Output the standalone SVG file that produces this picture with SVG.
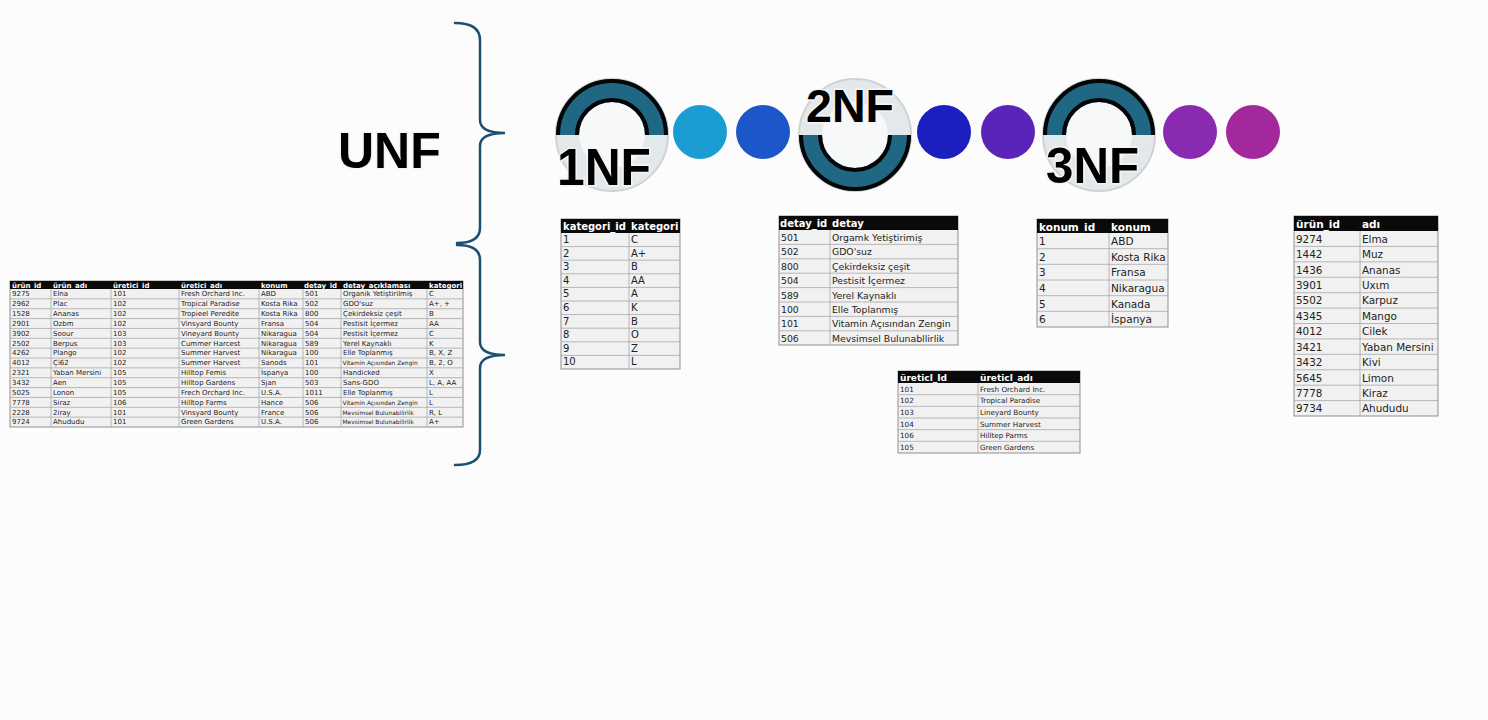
<svg xmlns="http://www.w3.org/2000/svg" width="1488" height="720" viewBox="0 0 1488 720">
<defs>
<linearGradient id="rowg" x1="0" y1="0" x2="0" y2="1"><stop offset="0" stop-color="#f8f8f8"/><stop offset="1" stop-color="#e8e8e8"/></linearGradient>
<style>
.bg{fill:#fcfcfc}
.body{fill:#f1f1f1;stroke:#8f8f8f;stroke-width:1}
.hd{fill:#0a0a0a}
.ln{stroke:#a8a8a8;stroke-width:0.8;fill:none}
.th{font-family:"DejaVu Sans",Verdana,sans-serif;font-weight:bold;fill:#fff}
.td{font-family:"DejaVu Sans",Verdana,sans-serif;fill:#222}
.u .th{font-size:7px}
.u .td{font-size:7px}
.u .sm{font-size:5.9px}
.big{font-family:"Liberation Sans",Arial,sans-serif;font-weight:bold;fill:#000;stroke:#f4f4f4;stroke-width:3;paint-order:stroke}
.br{stroke:#1d4f70;stroke-width:2.5;fill:none;stroke-linecap:round}
.teal{fill:#1f6783}
.arc{fill:none;stroke:#050505;stroke-width:4}
.lite{fill:#e3e8eb;stroke:#cfd3d6;stroke-width:2}
.hole{fill:#f7f8f9}
</style>
</defs>
<rect class="bg" x="0" y="0" width="1488" height="720"/>

<g id="connectors">
<path class="br" d="M455,23 Q480,23 480,40 L480,120 Q480,133 505,133 Q480,133 480,146 L480,228 Q480,243 457,243"/>
<path class="br" d="M457,245 Q480,245 480,260 L480,342 Q480,355 505,355 Q480,355 480,368 L480,450 Q480,465 455,465"/>
</g>

<g id="unf-label"><text class="big" x="338" y="168" font-size="50" stroke="none">UNF</text></g>

<g id="nf1">
<circle class="lite" cx="612" cy="135" r="56"/>
<circle class="hole" cx="612" cy="135" r="33"/>
<path class="teal" d="M556,135 A56,56 0 0 1 668,135 L645,135 A33,33 0 0 0 579,135 Z"/>
<path class="arc" d="M558,135 A54,54 0 0 1 666,135"/>
<path class="arc" d="M647,135 A35,35 0 0 0 577,135"/>
<text class="big" x="557" y="185" font-size="52" textLength="94" lengthAdjust="spacingAndGlyphs">1NF</text>
</g>

<circle id="dot1" cx="700" cy="132" r="27" fill="#1a9dd3"/>
<circle id="dot2" cx="763" cy="132" r="27" fill="#1b57c9"/>

<g id="nf2">
<circle class="lite" cx="855" cy="135" r="56"/>
<circle class="hole" cx="855" cy="135" r="33"/>
<path class="teal" d="M799,135 A56,56 0 0 0 911,135 L888,135 A33,33 0 0 1 822,135 Z"/>
<path class="arc" d="M801,135 A54,54 0 0 0 909,135"/>
<path class="arc" d="M890,135 A35,35 0 0 1 820,135"/>
<text class="big" x="806" y="122" font-size="46" textLength="88" lengthAdjust="spacingAndGlyphs">2NF</text>
</g>

<circle id="dot3" cx="944" cy="132" r="27" fill="#1c1fc0"/>
<circle id="dot4" cx="1008" cy="132" r="27" fill="#5b24b9"/>

<g id="nf3">
<circle class="lite" cx="1099" cy="135" r="56"/>
<circle class="hole" cx="1099" cy="135" r="33"/>
<path class="teal" d="M1043,135 A56,56 0 0 1 1155,135 L1132,135 A33,33 0 0 0 1066,135 Z"/>
<path class="arc" d="M1045,135 A54,54 0 0 1 1153,135"/>
<path class="arc" d="M1134,135 A35,35 0 0 0 1064,135"/>
<text class="big" x="1046" y="183" font-size="50" textLength="93" lengthAdjust="spacingAndGlyphs">3NF</text>
</g>

<circle id="dot5" cx="1190" cy="132" r="27" fill="#8a2ab1"/>
<circle id="dot6" cx="1253" cy="132" r="27" fill="#a3289e"/>

<g id="unf-table" class="u">
<rect class="body" x="10" y="281" width="453" height="146" fill="url(#rowg)"/>
<rect class="hd" x="10" y="281" width="453" height="8"/>
<path class="ln" d="M10,298.86H463M10,308.71H463M10,318.57H463M10,328.43H463M10,338.29H463M10,348.14H463M10,358H463M10,367.86H463M10,377.71H463M10,387.57H463M10,397.43H463M10,407.29H463M10,417.14H463M51,289V427M111,289V427M179,289V427M259,289V427M303,289V427M341,289V427M427,289V427"/>
<text class="th" y="287.5"><tspan x="12">ürün_id</tspan><tspan x="53">ürün_adı</tspan><tspan x="113">üretici_id</tspan><tspan x="181">üretici_adı</tspan><tspan x="261">konum</tspan><tspan x="304">detay_id</tspan><tspan x="343">detay_açıklaması</tspan><tspan x="429">kategori</tspan></text>
<text class="td" y="296.3"><tspan x="12">9275</tspan><tspan x="53">Elna</tspan><tspan x="113">101</tspan><tspan x="181">Fresh Orchard Inc.</tspan><tspan x="261">ABD</tspan><tspan x="305">501</tspan><tspan x="343">Organik Yetiştirilmiş</tspan><tspan x="429">C</tspan></text>
<text class="td" y="306.2"><tspan x="12">2962</tspan><tspan x="53">Plac</tspan><tspan x="113">102</tspan><tspan x="181">Tropical Paradise</tspan><tspan x="261">Kosta Rika</tspan><tspan x="305">502</tspan><tspan x="343">GDO'suz</tspan><tspan x="429">A+, +</tspan></text>
<text class="td" y="316.0"><tspan x="12">1528</tspan><tspan x="53">Ananas</tspan><tspan x="113">102</tspan><tspan x="181">Tropieel Peredite</tspan><tspan x="261">Kosta Rika</tspan><tspan x="305">800</tspan><tspan x="343">Çekirdeksiz çeşit</tspan><tspan x="429">B</tspan></text>
<text class="td" y="325.9"><tspan x="12">2901</tspan><tspan x="53">Ozbm</tspan><tspan x="113">102</tspan><tspan x="181">Vinsyard Bounty</tspan><tspan x="261">Fransa</tspan><tspan x="305">504</tspan><tspan x="343">Pestisit İçermez</tspan><tspan x="429">AA</tspan></text>
<text class="td" y="335.7"><tspan x="12">3902</tspan><tspan x="53">Soour</tspan><tspan x="113">103</tspan><tspan x="181">Vineyard Bounty</tspan><tspan x="261">Nikaragua</tspan><tspan x="305">504</tspan><tspan x="343">Pestisit İçermez</tspan><tspan x="429">C</tspan></text>
<text class="td" y="345.6"><tspan x="12">2502</tspan><tspan x="53">Berpus</tspan><tspan x="113">103</tspan><tspan x="181">Cummer Harcest</tspan><tspan x="261">Nikaragua</tspan><tspan x="305">589</tspan><tspan x="343">Yerel Kaynaklı</tspan><tspan x="429">K</tspan></text>
<text class="td" y="355.4"><tspan x="12">4262</tspan><tspan x="53">Plango</tspan><tspan x="113">102</tspan><tspan x="181">Summer Harvest</tspan><tspan x="261">Nikaragua</tspan><tspan x="305">100</tspan><tspan x="343">Elle Toplanmış</tspan><tspan x="429">B, X, Z</tspan></text>
<text class="td" y="365.3"><tspan x="12">4012</tspan><tspan x="53">Çi62</tspan><tspan x="113">102</tspan><tspan x="181">Summer Harvest</tspan><tspan x="261">Sanods</tspan><tspan x="305">101</tspan><tspan x="429">B, 2, O</tspan></text>
<text class="td sm" x="342.5" y="365.3">Vitamin Açısından Zengin</text>
<text class="td" y="375.2"><tspan x="12">2321</tspan><tspan x="53">Yaban Mersini</tspan><tspan x="113">105</tspan><tspan x="181">Hilltop Femis</tspan><tspan x="261">İspanya</tspan><tspan x="305">100</tspan><tspan x="343">Handicked</tspan><tspan x="429">X</tspan></text>
<text class="td" y="385.0"><tspan x="12">3432</tspan><tspan x="53">Aen</tspan><tspan x="113">105</tspan><tspan x="181">Hilltop Gardens</tspan><tspan x="261">Sjan</tspan><tspan x="305">503</tspan><tspan x="343">Sans-GDO</tspan><tspan x="429">L, A, AA</tspan></text>
<text class="td" y="394.9"><tspan x="12">5025</tspan><tspan x="53">Lonon</tspan><tspan x="113">105</tspan><tspan x="181">Frech Orchard Inc.</tspan><tspan x="261">U.S.A.</tspan><tspan x="305">1011</tspan><tspan x="343">Elle Toplanmış</tspan><tspan x="429">L</tspan></text>
<text class="td" y="404.7"><tspan x="12">7778</tspan><tspan x="53">Siraz</tspan><tspan x="113">106</tspan><tspan x="181">Hilltop Farms</tspan><tspan x="261">Hance</tspan><tspan x="305">506</tspan><tspan x="429">L</tspan></text>
<text class="td sm" x="342.5" y="404.7">Vitamin Açısından Zengin</text>
<text class="td" y="414.6"><tspan x="12">2228</tspan><tspan x="53">2iray</tspan><tspan x="113">101</tspan><tspan x="181">Vinsyard Bounty</tspan><tspan x="261">France</tspan><tspan x="305">506</tspan><tspan x="429">R, L</tspan></text>
<text class="td sm" x="342.5" y="414.6">Mevsimsel Bulunabilirlik</text>
<text class="td" y="424.4"><tspan x="12">9724</tspan><tspan x="53">Ahududu</tspan><tspan x="113">101</tspan><tspan x="181">Green Gardens</tspan><tspan x="261">U.S.A.</tspan><tspan x="305">506</tspan><tspan x="429">A+</tspan></text>
<text class="td sm" x="342.5" y="424.4">Mevsimsel Bulunabilirlik</text>
</g>

<g id="kategori-table">
<rect class="body" x="561" y="219" width="119" height="150" fill="url(#rowg)"/>
<rect class="hd" x="561" y="219" width="119" height="14"/>
<path class="ln" d="M561,246.6H680M561,260.2H680M561,273.8H680M561,287.4H680M561,301H680M561,314.6H680M561,328.2H680M561,341.8H680M561,355.4H680M629,233V369"/>
<text class="th" font-size="10" y="230"><tspan x="563">kategori_id</tspan><tspan x="631">kategori</tspan></text>
<g class="td" font-size="10">
<text x="563" y="243">1</text><text x="631" y="243">C</text>
<text x="563" y="256.6">2</text><text x="631" y="256.6">A+</text>
<text x="563" y="270.2">3</text><text x="631" y="270.2">B</text>
<text x="563" y="283.8">4</text><text x="631" y="283.8">AA</text>
<text x="563" y="297.4">5</text><text x="631" y="297.4">A</text>
<text x="563" y="311">6</text><text x="631" y="311">K</text>
<text x="563" y="324.6">7</text><text x="631" y="324.6">B</text>
<text x="563" y="338.2">8</text><text x="631" y="338.2">O</text>
<text x="563" y="351.8">9</text><text x="631" y="351.8">Z</text>
<text x="563" y="365.4">10</text><text x="631" y="365.4">L</text>
</g>
</g>

<g id="detay-table">
<rect class="body" x="779" y="216" width="179" height="129" fill="url(#rowg)"/>
<rect class="hd" x="779" y="216" width="179" height="14"/>
<path class="ln" d="M779,244.4H958M779,258.8H958M779,273.2H958M779,287.6H958M779,302H958M779,316.4H958M779,330.8H958M830,230V345"/>
<text class="th" font-size="10" y="227"><tspan x="780">detay_id</tspan><tspan x="832">detay</tspan></text>
<g class="td" font-size="9.3">
<text x="781" y="241">501</text><text x="832" y="241">Orgamk Yetiştirimiş</text>
<text x="781" y="255.4">502</text><text x="832" y="255.4">GDO'suz</text>
<text x="781" y="269.8">800</text><text x="832" y="269.8">Çekirdeksiz çeşit</text>
<text x="781" y="284.2">504</text><text x="832" y="284.2">Pestisit İçermez</text>
<text x="781" y="298.6">589</text><text x="832" y="298.6">Yerel Kaynaklı</text>
<text x="781" y="313">100</text><text x="832" y="313">Elle Toplanmış</text>
<text x="781" y="327.4">101</text><text x="832" y="327.4">Vitamin Açısından Zengin</text>
<text x="781" y="341.8">506</text><text x="832" y="341.8">Mevsimsel Bulunabllirlik</text>
</g>
</g>

<g id="konum-table">
<rect class="body" x="1037" y="219" width="131" height="108" fill="url(#rowg)"/>
<rect class="hd" x="1037" y="219" width="131" height="14"/>
<path class="ln" d="M1037,248.67H1168M1037,264.33H1168M1037,280H1168M1037,295.67H1168M1037,311.33H1168M1109,233V327"/>
<text class="th" font-size="10.5" y="230.5"><tspan x="1039">konum_id</tspan><tspan x="1111">konum</tspan></text>
<g class="td" font-size="10.5">
<text x="1039" y="244.8">1</text><text x="1111" y="244.8">ABD</text>
<text x="1039" y="260.5">2</text><text x="1111" y="260.5">Kosta Rika</text>
<text x="1039" y="276.1">3</text><text x="1111" y="276.1">Fransa</text>
<text x="1039" y="291.8">4</text><text x="1111" y="291.8">Nikaragua</text>
<text x="1039" y="307.5">5</text><text x="1111" y="307.5">Kanada</text>
<text x="1039" y="323.1">6</text><text x="1111" y="323.1">İspanya</text>
</g>
</g>

<g id="uretici-table">
<rect class="body" x="898" y="371" width="182" height="82" fill="url(#rowg)"/>
<rect class="hd" x="898" y="371" width="182" height="12"/>
<path class="ln" d="M898,394.67H1080M898,406.33H1080M898,418H1080M898,429.67H1080M898,441.33H1080M978,383V453"/>
<text class="th" font-size="9" y="380.5"><tspan x="900">üreticl_Id</tspan><tspan x="980">üreticl_adı</tspan></text>
<g class="td" font-size="7.2">
<text x="900" y="391.7">101</text><text x="980" y="391.7">Fresh Orchard Inc.</text>
<text x="900" y="403.4">102</text><text x="980" y="403.4">Tropical Paradise</text>
<text x="900" y="415">103</text><text x="980" y="415">Lineyard Bounty</text>
<text x="900" y="426.7">104</text><text x="980" y="426.7">Summer Harvest</text>
<text x="900" y="438.4">106</text><text x="980" y="438.4">Hilltep Parms</text>
<text x="900" y="450">105</text><text x="980" y="450">Green Gardens</text>
</g>
</g>

<g id="urun-table">
<rect class="body" x="1294" y="216" width="144" height="200" fill="url(#rowg)"/>
<rect class="hd" x="1294" y="216" width="144" height="15"/>
<path class="ln" d="M1294,246.42H1438M1294,261.83H1438M1294,277.25H1438M1294,292.67H1438M1294,308.08H1438M1294,323.5H1438M1294,338.92H1438M1294,354.33H1438M1294,369.75H1438M1294,385.17H1438M1294,400.58H1438M1360,231V416"/>
<text class="th" font-size="10.5" y="227.5"><tspan x="1296">ürün_id</tspan><tspan x="1362">adı</tspan></text>
<g class="td" font-size="10.4">
<text x="1296" y="242.8">9274</text><text x="1362" y="242.8">Elma</text>
<text x="1296" y="258.2">1442</text><text x="1362" y="258.2">Muz</text>
<text x="1296" y="273.6">1436</text><text x="1362" y="273.6">Ananas</text>
<text x="1296" y="289">3901</text><text x="1362" y="289">Uxιm</text>
<text x="1296" y="304.4">5502</text><text x="1362" y="304.4">Karpuz</text>
<text x="1296" y="319.8">4345</text><text x="1362" y="319.8">Mango</text>
<text x="1296" y="335.3">4012</text><text x="1362" y="335.3">Cilek</text>
<text x="1296" y="350.7">3421</text><text x="1362" y="350.7">Yaban Mersini</text>
<text x="1296" y="366.1">3432</text><text x="1362" y="366.1">Kivi</text>
<text x="1296" y="381.5">5645</text><text x="1362" y="381.5">Limon</text>
<text x="1296" y="396.9">7778</text><text x="1362" y="396.9">Kiraz</text>
<text x="1296" y="412.4">9734</text><text x="1362" y="412.4">Ahududu</text>
</g>
</g>
</svg>
